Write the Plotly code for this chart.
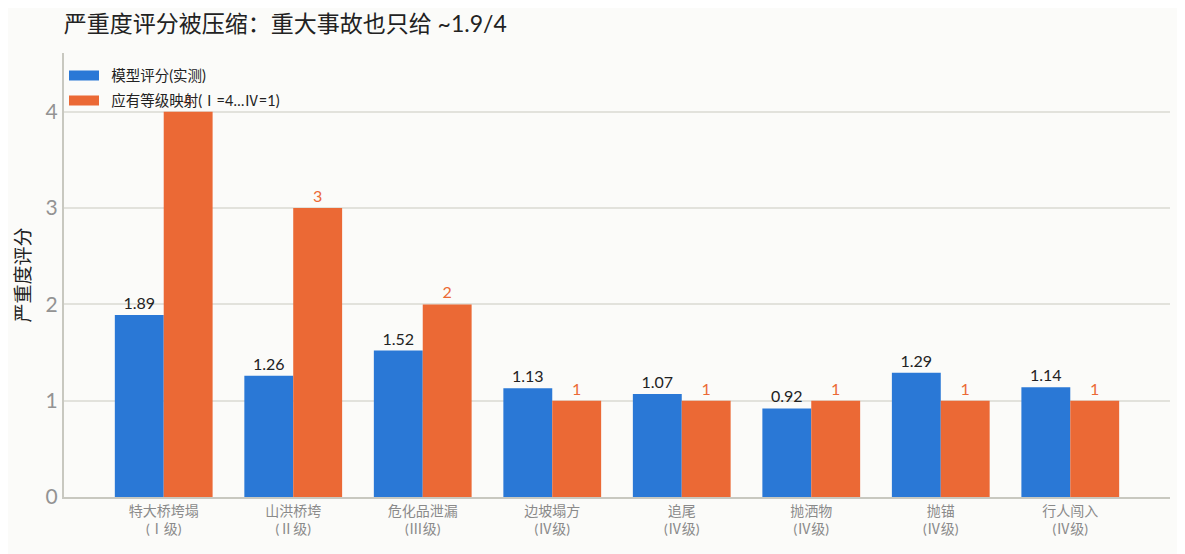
import plotly.graph_objects as go

categories = ["特大桥垮塌<br>(Ⅰ级)", "山洪桥垮<br>(Ⅱ级)", "危化品泄漏<br>(Ⅲ级)", "边坡塌方<br>(Ⅳ级)",
              "追尾<br>(Ⅳ级)", "抛洒物<br>(Ⅳ级)", "抛锚<br>(Ⅳ级)", "行人闯入<br>(Ⅳ级)"]
model_score = [1.89, 1.26, 1.52, 1.13, 1.07, 0.92, 1.29, 1.14]
expected_level = [4, 3, 2, 1, 1, 1, 1, 1]
names = ["模型评分(实测)", "应有等级映射(Ⅰ=4…Ⅳ=1)"]

blue = "#2a78d6"
orange = "#eb6935"
font_family = "Lato, 'Noto Sans CJK SC', sans-serif"

fig = go.Figure()
fig.add_trace(go.Bar(
    x=categories, y=model_score, name=names[0], showlegend=False,
    marker_color=blue, marker_line_width=0,
    text=[f"{v:.2f}" for v in model_score], textposition="outside",
    textfont=dict(color="#222222", size=16),
    cliponaxis=False,
))
fig.add_trace(go.Bar(
    x=categories, y=expected_level, name=names[1], showlegend=False,
    marker_color=orange, marker_line_width=0,
    text=[str(v) for v in expected_level], textposition="outside",
    textfont=dict(color=orange, size=16),
    cliponaxis=False,
))
# wide legend swatches (en space pushes the label a bit right of the swatch)
for i, (nm, col) in enumerate(zip(names, [blue, orange])):
    fig.add_trace(go.Scatter(x=[None], y=[None], mode="lines", name="\u2002" + nm,
                             legendgroup=f"g{i}",
                             line=dict(color=col, width=12)))

fig.update_layout(
    width=1185, height=554,
    paper_bgcolor="#fbfbf9", plot_bgcolor="#fbfbf9",
    font=dict(family=font_family, color="#222222"),
    title=dict(text="严重度评分被压缩：重大事故也只给 ~1.9/4", x=0.047, xanchor="left",
               y=0.971, yanchor="middle", font=dict(size=23, color="#222222")),
    margin=dict(l=56, r=23, t=45, b=65),
    barmode="group", bargap=0.245, bargroupgap=0,
    showlegend=True,
    legend=dict(x=0.0, y=0.985, xanchor="left", yanchor="top",
                bgcolor="rgba(0,0,0,0)", font=dict(size=14.5, color="#222222"),
                itemwidth=30, tracegroupgap=3),
)
fig.update_xaxes(
    range=[-0.77, 7.77], showline=True, linecolor="#c8c8c0", linewidth=2,
    tickfont=dict(size=14, color="#8a8a8a"), ticks="",
)
fig.update_yaxes(
    range=[0, 4.61], dtick=1, showline=True, linecolor="#c8c8c0", linewidth=2,
    gridcolor="#e2e2dc", gridwidth=1.5, zeroline=False,
    tickfont=dict(size=21, color="#939393"), ticks="",
    title=dict(text="严重度评分", font=dict(size=19, color="#222222"), standoff=10),
)

fig.write_html("out.html")
